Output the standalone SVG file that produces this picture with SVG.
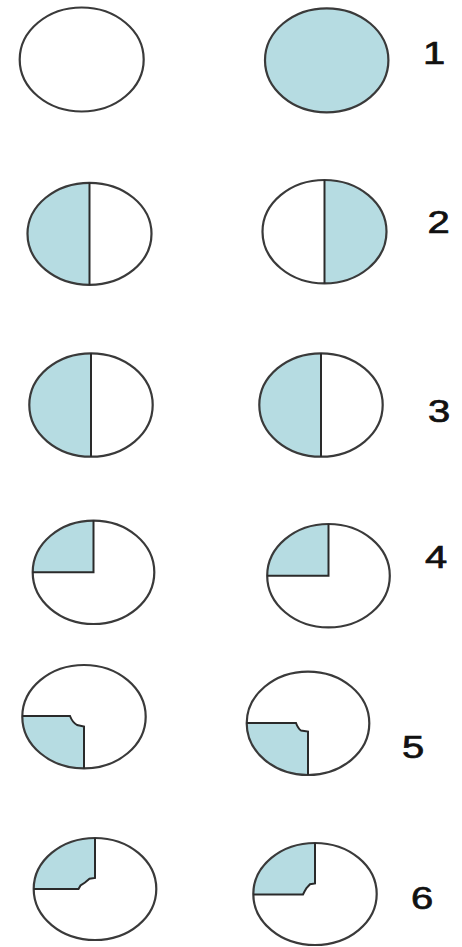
<svg xmlns="http://www.w3.org/2000/svg" width="462" height="947" viewBox="0 0 462 947">
<style>
.bg{fill:#ffffff}
.fill{fill:#b6dce2;stroke:none}
.outline{fill:none;stroke:#3a3a3a;stroke-width:2.2}
.line{fill:none;stroke:#2a2a2a;stroke-width:2;stroke-linejoin:miter}
.lbl{font-family:"Liberation Sans",Arial,sans-serif;font-size:32px;fill:#111;stroke:#111;stroke-width:0.7}
</style>
<rect class="bg" x="0" y="0" width="462" height="947"/>
<g id="connectors"/>
<!-- Row 1 -->
<g id="r1-left">
<ellipse class="outline" cx="81.7" cy="59.5" rx="62" ry="52"/>
</g>
<g id="r1-right">
<ellipse class="fill" cx="326.7" cy="60.3" rx="61.7" ry="52"/>
<ellipse class="outline" cx="326.7" cy="60.3" rx="61.7" ry="52"/>
</g>
<text class="lbl" transform="translate(423 63.5) scale(1.25 1)">1</text>
<!-- Row 2 -->
<g id="r2-left">
<path class="fill" d="M89.5 182.8 A62 51 0 0 0 89.5 284.8 Z"/>
<ellipse class="outline" cx="89.5" cy="233.8" rx="62" ry="51"/>
<line class="line" x1="89.5" y1="182.8" x2="89.5" y2="284.8"/>
</g>
<g id="r2-right">
<path class="fill" d="M324.5 180 A62 51.7 0 0 1 324.5 283.4 Z"/>
<ellipse class="outline" cx="324.5" cy="231.7" rx="62" ry="51.7"/>
<line class="line" x1="324.5" y1="180" x2="324.5" y2="283.4"/>
</g>
<text class="lbl" transform="translate(427.5 232.5) scale(1.25 1)">2</text>
<!-- Row 3 -->
<g id="r3-left">
<path class="fill" d="M91 353.3 A61.7 51.7 0 0 0 91 456.7 Z"/>
<ellipse class="outline" cx="91" cy="405" rx="61.7" ry="51.7"/>
<line class="line" x1="91" y1="353.3" x2="91" y2="456.7"/>
</g>
<g id="r3-right">
<path class="fill" d="M321 353.3 A61.7 51.7 0 0 0 321 456.7 Z"/>
<ellipse class="outline" cx="321" cy="405" rx="61.7" ry="51.7"/>
<line class="line" x1="321" y1="353.3" x2="321" y2="456.7"/>
</g>
<text class="lbl" transform="translate(428 421.5) scale(1.25 1)">3</text>
<!-- Row 4 -->
<g id="r4-left">
<path class="fill" d="M93.5 572.3 L32.7 572.3 A60.8 51.7 0 0 1 93.5 520.6 Z"/>
<ellipse class="outline" cx="93.5" cy="572.3" rx="60.8" ry="51.7"/>
<polyline class="line" points="93.5,520.6 93.5,572.3 32.7,572.3"/>
</g>
<g id="r4-right">
<path class="fill" d="M328.5 575.7 L267.2 575.7 A61.3 51.7 0 0 1 328.5 524 Z"/>
<ellipse class="outline" cx="328.5" cy="575.7" rx="61.3" ry="51.7"/>
<polyline class="line" points="328.5,524 328.5,575.7 267.2,575.7"/>
</g>
<text class="lbl" transform="translate(425 568) scale(1.25 1)">4</text>
<!-- Row 5 -->
<g id="r5-left">
<path class="fill" d="M22.3 716 L70 716 Q72.5 722.5 77 725 L84 726.5 L84 768.4 A61.7 51.7 0 0 1 22.3 716 Z"/>
<ellipse class="outline" cx="84" cy="716.7" rx="61.7" ry="51.7"/>
<path class="line" d="M22.3 716 L70 716 Q72.5 722.5 77 725 L84 726.5 L84 768.4"/>
</g>
<g id="r5-right">
<path class="fill" d="M246.7 723 L296 723 Q298 728.5 301 730.5 L308 731.5 L308 775 A61.3 51.7 0 0 1 246.7 723 Z"/>
<ellipse class="outline" cx="308" cy="723.3" rx="61.3" ry="51.7"/>
<path class="line" d="M246.7 723 L296 723 Q298 728.5 301 730.5 L308 731.5 L308 775"/>
</g>
<text class="lbl" transform="translate(402 757.5) scale(1.25 1)">5</text>
<!-- Row 6 -->
<g id="r6-left">
<path class="fill" d="M95 838 L95 878 L89.5 878.8 L85 882.5 L80.5 885.5 L78.5 889 L33.7 889 A61.3 51 0 0 1 95 838 Z"/>
<ellipse class="outline" cx="95" cy="889" rx="61.3" ry="51"/>
<path class="line" d="M95 838 L95 878 L89.5 878.8 L85 882.5 L80.5 885.5 L78.5 889 L33.7 889"/>
</g>
<g id="r6-right">
<path class="fill" d="M315 843 L315 883.5 L310 884.2 L306.5 888 L304.5 891.5 L303 894.5 L253.3 894.5 A61.7 51 0 0 1 315 843 Z"/>
<ellipse class="outline" cx="315" cy="894" rx="61.7" ry="51"/>
<path class="line" d="M315 843 L315 883.5 L310 884.2 L306.5 888 L304.5 891.5 L303 894.5 L253.3 894.5"/>
</g>
<text class="lbl" transform="translate(411 909) scale(1.25 1)">6</text>
</svg>
